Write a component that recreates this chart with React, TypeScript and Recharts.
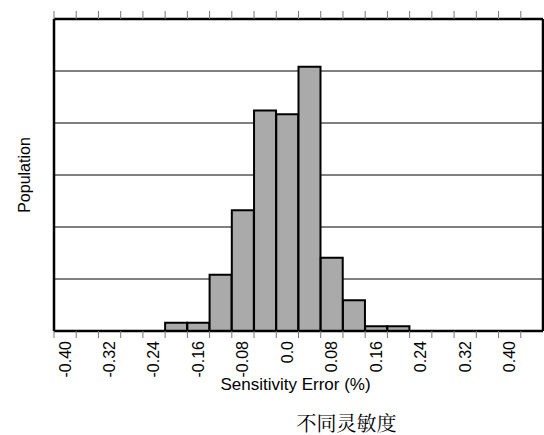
import { ComposedChart, Bar, XAxis, YAxis, CartesianGrid } from 'recharts';

// histogram bins (centre of each 0.04 wide bin) and their population
const binCenters = [-0.18, -0.14, -0.1, -0.06, -0.02, 0.02, 0.06, 0.1, 0.14, 0.18, 0.22];
const population = [1.6, 1.6, 10.8, 23.2, 42.4, 41.7, 50.8, 14.1, 5.9, 0.9, 0.9];

const xTicks = [-0.4, -0.36, -0.32, -0.28, -0.24, -0.2, -0.16, -0.12, -0.08, -0.04, 0, 0.04, 0.08, 0.12, 0.16, 0.2, 0.24, 0.28, 0.32, 0.36, 0.4, 0.44];
const xTickLabels = ['-0.40', '', '-0.32', '', '-0.24', '', '-0.16', '', '-0.08', '', '0.0', '', '0.08', '', '0.16', '', '0.24', '', '0.32', '', '0.40', ''];
const yTicks = [0, 10, 20, 30, 40, 50, 60];

const xAxisTitle = 'Sensitivity Error (%)';
const yAxisTitle = 'Population';
const chartTitle = '不同灵敏度';

const data = binCenters.map((x, i) => ({ x, population: population[i] }));

const sans = '"Liberation Sans", Arial, sans-serif';

const NoTick = () => <g />;

function BottomTick(props: any) {
    const { x, y, payload } = props;
    const label = xTickLabels[xTicks.indexOf(payload.value)];
    if (!label) return <g />;
    return (
        <text
            transform={`translate(${x + 11},${y + 1}) rotate(-90)`}
            textAnchor="end"
            dominantBaseline="central"
            fontFamily={sans}
            fontSize={16}
            fill="#000"
        >
            {label}
        </text>
    );
}

function BottomLabel(props: any) {
    const { viewBox } = props;
    const cx = viewBox.x + viewBox.width / 2;
    return (
        <g>
            <text x={cx - 3} y={viewBox.y + 53} textAnchor="middle" dominantBaseline="central" fontFamily={sans} fontSize={17} fill="#000">
                {xAxisTitle}
            </text>
            <text x={cx + 48} y={viewBox.y + 91} textAnchor="middle" dominantBaseline="central" fontFamily='"Noto Serif CJK SC", serif' fontSize={20} fill="#000">
                {chartTitle}
            </text>
        </g>
    );
}

function LeftLabel(props: any) {
    const { viewBox } = props;
    const x = viewBox.x + 24;
    const y = viewBox.y + viewBox.height / 2;
    return (
        <text transform={`translate(${x},${y}) rotate(-90)`} textAnchor="middle" dominantBaseline="central" fontFamily={sans} fontSize={16} fill="#000">
            {yAxisTitle}
        </text>
    );
}

export default function App() {
    return (
        <div style={{ position: 'absolute', left: 0, top: 0, width: 544, height: 435, background: '#fff' }}>
            <ComposedChart
                width={544}
                height={435}
                data={data}
                margin={{ top: 0, right: 0, left: 0, bottom: 0 }}
                barCategoryGap={0}
                barGap={0}
            >
                <CartesianGrid vertical={false} stroke="#000" strokeWidth={1} />
                <XAxis
                    xAxisId="top"
                    orientation="top"
                    type="number"
                    dataKey="x"
                    domain={[-0.4, 0.48]}
                    allowDataOverflow
                    ticks={xTicks}
                    interval={0}
                    height={19}
                    tick={<NoTick />}
                    tickSize={8}
                    tickLine={{ stroke: '#777', strokeWidth: 1 }}
                    axisLine={{ stroke: '#000', strokeWidth: 2.5 }}
                />
                <XAxis
                    type="number"
                    dataKey="x"
                    domain={[-0.4, 0.48]}
                    allowDataOverflow
                    ticks={xTicks}
                    interval={0}
                    height={104}
                    tick={<BottomTick />}
                    tickSize={7}
                    tickLine={{ stroke: '#777', strokeWidth: 1 }}
                    axisLine={{ stroke: '#000', strokeWidth: 2.5 }}
                    label={<BottomLabel />}
                />
                <YAxis
                    domain={[0, 60]}
                    ticks={yTicks}
                    interval={0}
                    width={54}
                    tick={<NoTick />}
                    tickLine={false}
                    axisLine={{ stroke: '#000', strokeWidth: 2.5 }}
                    label={<LeftLabel />}
                />
                <YAxis
                    yAxisId="right"
                    orientation="right"
                    domain={[0, 60]}
                    width={1}
                    tick={<NoTick />}
                    tickLine={false}
                    axisLine={{ stroke: '#000', strokeWidth: 2.5 }}
                />
                <Bar dataKey="population" fill="#aaaaaa" stroke="#000" strokeWidth={2} isAnimationActive={false} />
            </ComposedChart>
        </div>
    );
}
